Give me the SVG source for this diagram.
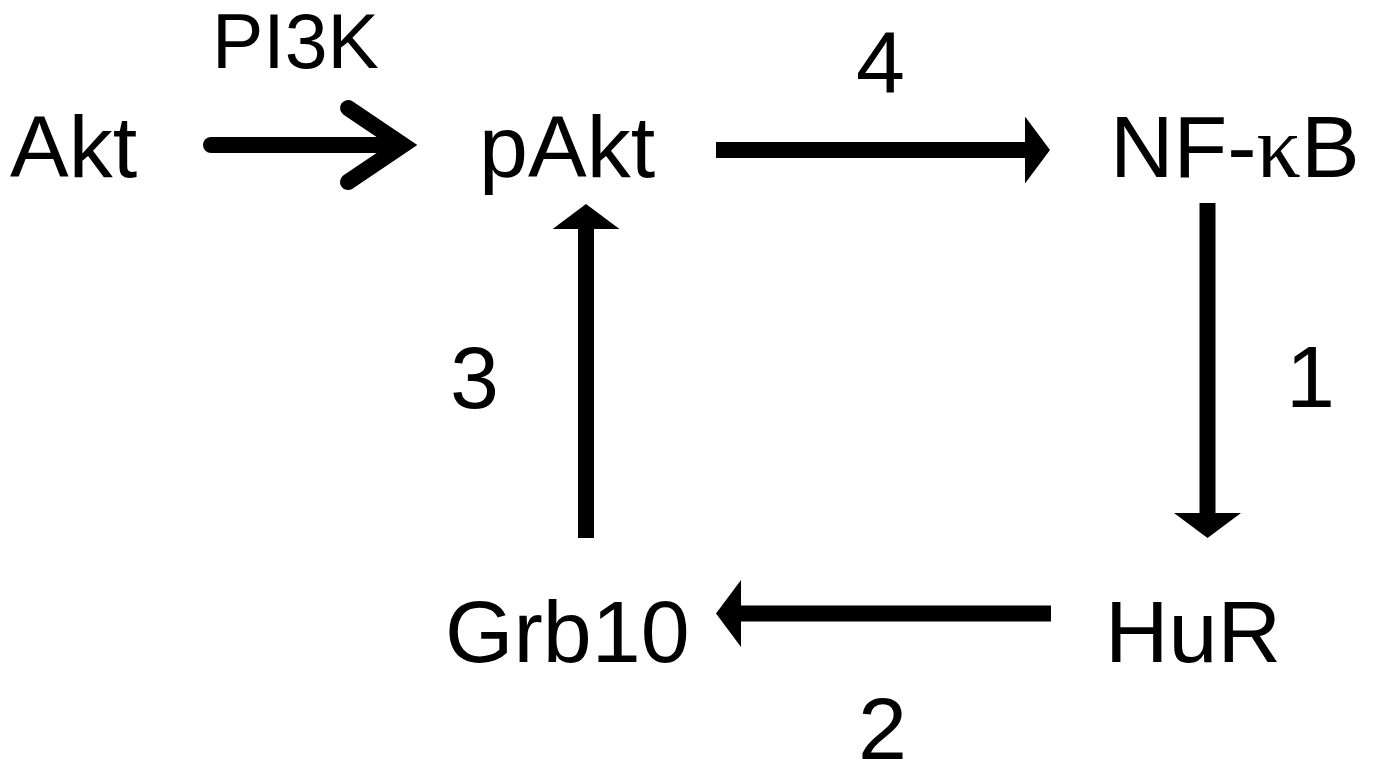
<svg xmlns="http://www.w3.org/2000/svg" width="1373" height="766" viewBox="0 0 1373 766">
  <style>
    .lbl { font-family: "Liberation Sans", Arial, sans-serif; font-size: 88px; fill: #000; }
    .small { font-size: 77px; }
    .greek { font-family: "Liberation Serif", "Times New Roman", serif; }
    .shaft { stroke: #000; stroke-width: 16; fill: none; stroke-linecap: butt; }
    .open { stroke: #000; stroke-width: 16; fill: none; stroke-linecap: round; stroke-linejoin: miter; stroke-miterlimit: 10; }
  </style>
  <defs>
    <marker id="head" viewBox="0 0 25 67" refX="0" refY="33.5" markerWidth="25" markerHeight="67" markerUnits="userSpaceOnUse" orient="auto">
      <path d="M0,0 L25,33.5 L0,67 Z" fill="#000"/>
    </marker>
  </defs>
  <rect width="1373" height="766" fill="#fff"/>

  <g id="node-akt"><text class="lbl" x="10" y="177">Akt</text></g>
  <g id="node-pakt"><text class="lbl" x="479" y="177">pAkt</text></g>
  <g id="node-nfkb"><text class="lbl" x="1110" y="177">NF-<tspan class="greek">κ</tspan>B</text></g>
  <g id="node-hur"><text class="lbl" x="1105" y="662">HuR</text></g>
  <g id="node-grb10"><text class="lbl" x="445" y="662">Grb10</text></g>

  <g id="connectors">
    <line class="open" x1="211" y1="145" x2="400" y2="145"/>
    <path class="open" d="M348,108 L403,145 L348,182"/>
    <line class="shaft" x1="716" y1="150" x2="1025" y2="150" marker-end="url(#head)"/>
    <line class="shaft" x1="1207.5" y1="203" x2="1207.5" y2="513" marker-end="url(#head)"/>
    <line class="shaft" x1="1051" y1="613.5" x2="741" y2="613.5" marker-end="url(#head)"/>
    <line class="shaft" x1="586" y1="538" x2="586" y2="229" marker-end="url(#head)"/>
  </g>

  <g id="labels">
    <text class="lbl small" x="212" y="68">PI3K</text>
    <text class="lbl" x="856" y="93">4</text>
    <text class="lbl" x="1286" y="407">1</text>
    <text class="lbl" x="858" y="759">2</text>
    <text class="lbl" x="450" y="408">3</text>
  </g>
</svg>
